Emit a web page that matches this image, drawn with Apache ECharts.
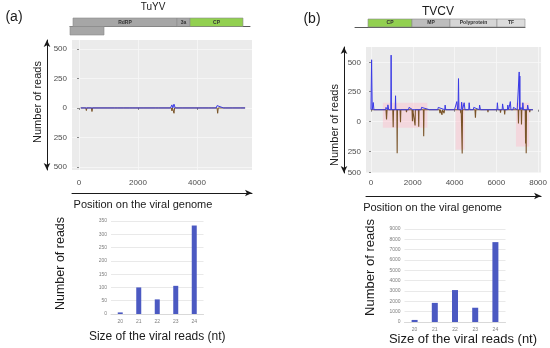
<!DOCTYPE html>
<html><head><meta charset="utf-8">
<script src="https://cdn.jsdelivr.net/npm/echarts@6/dist/echarts.min.js"></script>
<style>html,body{margin:0;padding:0;background:#fff}#c{width:550px;height:348px}</style>
</head><body><div id="c"></div>
<script>
// ---------- genome maps ----------
const tuyvGeneLabels = ['RdRP', '3a', 'CP', ''];
const tuyvGeneStart = [95, 3388, 3800, 0];
const tuyvGeneEnd = [3388, 3800, 5478, 1077];
const tuyvGeneRow = [-1, -1, -1, 0];
const tvcvGeneLabels = ['CP', 'MP', 'Polyprotein', 'TF'];
const tvcvGeneStart = [612, 2682, 4471, 6682];
const tvcvGeneEnd = [2682, 4471, 6682, 8000];
const tvcvGeneRow = [-1, -1, -1, -1];

// ---------- coverage profiles ----------
const tuyvPlusPos = [60, 200, 230, 260, 400, 425, 450, 950, 975, 1000, 1200, 1250, 1300, 1500, 1530, 1800, 1850, 1900, 2200, 2240, 2600, 2650, 2700, 3100, 3150, 3180, 3220, 3260, 3500, 3540, 3900, 3950, 4000, 4200, 4240, 4400, 4450, 4500, 4650, 4680, 4900, 4940, 5200, 5240, 5480, 5500, 5520, 5630];
const tuyvPlusVal = [0, 0, 8, 0, 0, 6, 0, 0, 8, 0, 0, 6, 0, 0, 5, 0, 8, 0, 0, 5, 0, 6, 0, 0, 26, 0, 32, 0, 0, 5, 0, 8, 0, 0, 6, 0, 8, 0, 0, 20, 0, 6, 0, 5, 0, 12, 0, 0];
const tuyvMinusPos = [60, 230, 250, 270, 420, 440, 460, 1700, 1720, 1740, 3130, 3150, 3170, 3200, 3220, 3240, 4680, 4700, 4720, 4980, 5000, 5020, 5630];
const tuyvMinusVal = [0, 0, -22, 0, 0, -30, 0, 0, -8, 0, 0, -25, 0, 0, -45, 0, 0, -45, 0, 0, -10, 0, 0];

const tvcvPlusPos = [0, 30, 60, 110, 140, 300, 320, 700, 720, 790, 810, 850, 950, 965, 980, 1160, 1176, 1190, 1400, 1420, 1800, 1820, 2000, 2020, 2400, 2420, 2800, 2820, 3200, 3220, 3530, 3550, 3580, 4000, 4080, 4110, 4150, 4170, 4190, 4210, 4320, 4340, 4380, 4440, 4460, 4500, 4680, 4700, 4730, 4900, 4920, 5180, 5200, 5240, 5600, 5620, 6030, 6050, 6080, 6280, 6300, 6340, 6530, 6550, 6590, 6650, 6670, 6700, 6800, 6820, 7000, 7080, 7095, 7110, 7125, 7140, 7180, 7250, 7270, 7300, 7480, 7500, 7540, 7700, 7750];
const tvcvPlusVal = [0, 430, 0, 62, 0, 0, 10, 0, 20, 0, 42, 0, 0, 470, 0, 0, 120, 0, 0, 15, 0, 20, 0, 15, 0, 20, 0, 15, 0, 20, 0, 40, 0, 0, 0, 70, 0, 20, 268, 0, 0, 65, 0, 0, 60, 0, 0, 60, 0, 0, 20, 0, 40, 0, 0, 15, 0, 60, 0, 0, 50, 0, 0, 40, 0, 0, 70, 0, 0, 20, 0, 0, 325, 0, 290, 0, 20, 0, 60, 0, 0, 40, 0, 0, 0];
const tvcvMinusPos = [0, 720, 745, 770, 1045, 1063, 1080, 1240, 1254, 1268, 1395, 1413, 1430, 1680, 1700, 1720, 1965, 1984, 2000, 2095, 2111, 2125, 2270, 2286, 2300, 2510, 2524, 2540, 3280, 3300, 3320, 3380, 3400, 3420, 3480, 3500, 3520, 4280, 4300, 4320, 4352, 4367, 4382, 4980, 5000, 5020, 5580, 5600, 5620, 6180, 6200, 6220, 6380, 6400, 6420, 7045, 7060, 7075, 7190, 7205, 7220, 7385, 7400, 7415, 7430, 7445, 7580, 7600, 7620, 7750];
const tvcvMinusVal = [0, 0, -85, 0, 0, -150, 0, 0, -375, 0, 0, -107, 0, 0, -20, 0, 0, -99, 0, 0, -136, 0, 0, -147, 0, 0, -228, 0, 0, -30, 0, 0, -45, 0, 0, -30, 0, 0, -30, 0, 0, -378, 0, 0, -70, 0, 0, -20, 0, 0, -25, 0, 0, -40, 0, 0, -118, 0, 0, -127, 0, 0, -290, 0, -375, 0, 0, -20, 0, 0];
// highlighted hotspot regions (TVCV)
const tvcvHotStart = [570, 4050, 6940];
const tvcvHotEnd = [2700, 4480, 7570];
const tvcvHotTop = [60, 60, 60];
const tvcvHotBottom = [-155, -344, -318];

// axis tick labels
const tuyvYTicks = [500, 250, 0, -250, -500];
const tuyvYTickLabels = ['500', '250', '0', '250', '500'];
const tuyvXTicks = [0, 2000, 4000];
const tvcvYTicks = [405, 155, -103, -362, -540];
const tvcvYTickLabels = ['500', '250', '0', '250', '500'];
const tvcvXTicks = [0, 2000, 4000, 6000, 8000];

// ---------- read size distributions ----------
const readSizes = ['20', '21', '22', '23', '24'];
const tuyvSizeReads = [6, 100, 55, 106, 333];
const tvcvSizeReads = [200, 1850, 3090, 1380, 7730];

// ---------- styles ----------
const FONT = 'Liberation Sans';
const tuyvGeneFill = ['#A6A6A6', '#A6A6A6', '#92D050', '#A6A6A6'];
const tvcvGeneFill = ['#92D050', '#BDBDBD', '#D6D6D6', '#DCDCDC'];
const plusColor = '#3A3AE6';
const minusColor = '#7A5428';
const barColor = '#4B59C2';

const zip = (a, b) => a.map((v, i) => [v, b[i]]);
const lookup = (vals, labs) => v => { const i = vals.indexOf(v); return i >= 0 ? labs[i] : ''; };
const plain = v => String(v);

function geneRenderer(labels, fills) {
  return function (params, api) {
    const i = params.dataIndex;
    const s = api.coord([api.value(0), api.value(2)]);
    const e = api.coord([api.value(1), api.value(2) + 1]);
    return {
      type: 'group', children: [
        { type: 'rect', shape: { x: s[0], y: s[1], width: e[0] - s[0], height: e[1] - s[1] },
          style: { fill: fills[i], stroke: '#8C8C8C', lineWidth: 0.6 } },
        { type: 'text', style: { text: labels[i], x: (s[0] + e[0]) / 2, y: (s[1] + e[1]) / 2,
          align: 'center', verticalAlign: 'middle', fontSize: 5, fontWeight: 'bold', fill: '#333', fontFamily: FONT } }
      ]
    };
  };
}

const covLabel = { fontSize: 8, color: '#4D4D4D', fontFamily: FONT };
const hidden = { show: false };

function arrowX(grid, name, pad) {
  return { type: 'value', gridIndex: grid, position: 'bottom', offset: 23, min: 0, max: 1,
    axisLine: { show: true, onZero: false, symbol: ['none', 'arrow'], symbolSize: [5, 7], lineStyle: { color: '#1A1A1A', width: 1 } },
    axisTick: hidden, axisLabel: hidden, splitLine: hidden,
    name: name, nameLocation: 'middle', nameGap: 6,
    nameTextStyle: { fontSize: 11, color: '#1A1A1A', fontFamily: FONT, padding: pad, verticalAlign: 'top' } };
}
function arrowY(grid, offset, pad) {
  return { type: 'value', gridIndex: grid, position: 'left', offset: offset, min: 0, max: 1,
    axisLine: { show: true, onZero: false, symbol: ['arrow', 'arrow'], symbolSize: [5, 7], lineStyle: { color: '#1A1A1A', width: 1 } },
    axisTick: hidden, axisLabel: hidden, splitLine: hidden,
    name: 'Number of reads', nameLocation: 'middle', nameGap: 4,
    nameTextStyle: { fontSize: 11, color: '#1A1A1A', fontFamily: FONT, padding: pad } };
}

const chart = echarts.init(document.getElementById('c'), null, { renderer: 'canvas' });
chart.setOption({
  animation: false,
  textStyle: { fontFamily: FONT },
  graphic: [
    { type: 'text', x: 14, y: 17, style: { text: '(a)', fontSize: 14, fill: '#1A1A1A', align: 'center', verticalAlign: 'middle', fontFamily: FONT } },
    { type: 'text', x: 153, y: 7, style: { text: 'TuYV', fontSize: 10, fill: '#1A1A1A', align: 'center', verticalAlign: 'middle', fontFamily: FONT } },
    { type: 'text', x: 312, y: 19, style: { text: '(b)', fontSize: 14, fill: '#1A1A1A', align: 'center', verticalAlign: 'middle', fontFamily: FONT } },
    { type: 'text', x: 438, y: 12, style: { text: 'TVCV', fontSize: 12, fill: '#1A1A1A', align: 'center', verticalAlign: 'middle', fontFamily: FONT } }
  ],
  grid: [
    { left: 72, top: 40, width: 180, height: 130, show: true, backgroundColor: '#EBEBEB', borderWidth: 0 },
    { left: 366, top: 47, width: 176, height: 126, show: true, backgroundColor: '#EBEBEB', borderWidth: 0 },
    { left: 111, top: 221, width: 92.5, height: 93 },
    { left: 404.5, top: 229, width: 101, height: 93 },
    { left: 70, top: 18, width: 180, height: 17 },
    { left: 355, top: 19, width: 170, height: 8 }
  ],
  xAxis: [
    { type: 'value', gridIndex: 0, min: -237, max: 5864,
      axisLine: hidden, axisTick: { show: true, customValues: tuyvXTicks, length: 2, lineStyle: { color: '#888' } },
      axisLabel: Object.assign({ customValues: tuyvXTicks, margin: 9, formatter: plain }, covLabel),
      splitLine: { show: true, lineStyle: { color: '#F7F7F7', width: 0.8 } } },
    arrowX(0, 'Position on the viral genome', [0, 38, 0, 0]),
    { type: 'value', gridIndex: 1, min: -238, max: 8143,
      axisLine: hidden, axisTick: { show: true, customValues: tvcvXTicks, length: 2, lineStyle: { color: '#888' } },
      axisLabel: Object.assign({ customValues: tvcvXTicks, margin: 6, formatter: plain }, covLabel),
      splitLine: { show: true, lineStyle: { color: '#F7F7F7', width: 0.8 } } },
    arrowX(1, 'Position on the viral genome', [0, 42, 0, 0]),
    { type: 'category', gridIndex: 2, data: readSizes,
      axisLine: { show: true, lineStyle: { color: '#D9D9D9' } }, axisTick: hidden,
      axisLabel: { fontSize: 5, color: '#7F7F7F', margin: 5 },
      name: 'Size of the viral reads (nt)', nameLocation: 'middle', nameGap: 17,
      nameTextStyle: { fontSize: 12, color: '#1A1A1A', fontFamily: FONT } },
    { type: 'category', gridIndex: 3, data: readSizes,
      axisLine: { show: true, lineStyle: { color: '#D9D9D9' } }, axisTick: hidden,
      axisLabel: { fontSize: 5, color: '#7F7F7F', margin: 5 },
      name: 'Size of the viral reads (nt)', nameLocation: 'middle', nameGap: 10,
      nameTextStyle: { fontSize: 13, color: '#1A1A1A', fontFamily: FONT, padding: [0, 0, 0, 16] } },
    { type: 'value', gridIndex: 4, min: 0, max: 5700,
      axisLine: { show: true, onZero: true, lineStyle: { color: '#595959', width: 1 } },
      axisTick: hidden, axisLabel: hidden, splitLine: hidden },
    { type: 'value', gridIndex: 5, min: 0, max: 8000,
      axisLine: { show: true, onZero: true, lineStyle: { color: '#595959', width: 1 } },
      axisTick: hidden, axisLabel: hidden, splitLine: hidden }
  ],
  yAxis: [
    { type: 'value', gridIndex: 0, min: -525, max: 575,
      axisLine: hidden, axisTick: { show: true, customValues: tuyvYTicks, length: 2, lineStyle: { color: '#888' } },
      axisLabel: Object.assign({ customValues: tuyvYTicks, formatter: lookup(tuyvYTicks, tuyvYTickLabels), margin: 5 }, covLabel),
      splitLine: { show: true, lineStyle: { color: '#F7F7F7', width: 0.8 } } },
    arrowY(0, 25, [0, 0, 0, 6]),
    { type: 'value', gridIndex: 1, min: -545, max: 540,
      axisLine: hidden, axisTick: { show: true, customValues: tvcvYTicks, length: 2, lineStyle: { color: '#888' } },
      axisLabel: Object.assign({ customValues: tvcvYTicks, formatter: lookup(tvcvYTicks, tvcvYTickLabels), margin: 5 }, covLabel),
      splitLine: { show: true, lineStyle: { color: '#F7F7F7', width: 0.8 } } },
    arrowY(1, 22, [0, 30, 0, 0]),
    { type: 'value', gridIndex: 2, min: 0, max: 350, interval: 50,
      axisLine: hidden, axisTick: hidden,
      axisLabel: { fontSize: 5, color: '#7F7F7F', margin: 4, formatter: plain },
      splitLine: { show: true, lineStyle: { color: '#E3E3E3', width: 0.8 } },
      name: 'Number of reads', nameLocation: 'middle', nameGap: 44,
      nameTextStyle: { fontSize: 12.5, color: '#1A1A1A', fontFamily: FONT, padding: [0, 0, 0, 8] } },
    { type: 'value', gridIndex: 3, min: 0, max: 9000, interval: 1000,
      axisLine: hidden, axisTick: hidden,
      axisLabel: { fontSize: 5, color: '#7F7F7F', margin: 4, formatter: plain },
      splitLine: { show: true, lineStyle: { color: '#E3E3E3', width: 0.8 } },
      name: 'Number of reads', nameLocation: 'middle', nameGap: 28,
      nameTextStyle: { fontSize: 13, color: '#1A1A1A', fontFamily: FONT, padding: [0, 0, 0, 16] } },
    { type: 'value', gridIndex: 4, min: -1, max: 1, inverse: true, show: false },
    { type: 'value', gridIndex: 5, min: -1, max: 0, inverse: true, show: false }
  ],
  series: [
    { type: 'line', xAxisIndex: 0, yAxisIndex: 0, data: zip(tuyvMinusPos, tuyvMinusVal), showSymbol: false,
      lineStyle: { color: minusColor, width: 1 } },
    { type: 'line', xAxisIndex: 0, yAxisIndex: 0, data: zip(tuyvPlusPos, tuyvPlusVal), showSymbol: false,
      lineStyle: { color: plusColor, width: 1 } },
    { type: 'line', xAxisIndex: 2, yAxisIndex: 2, data: zip(tvcvMinusPos, tvcvMinusVal), showSymbol: false,
      lineStyle: { color: minusColor, width: 1.1 },
      markArea: { silent: true, itemStyle: { color: 'rgba(255,185,200,0.4)' },
        data: tvcvHotStart.map((s, i) => [{ xAxis: s, yAxis: tvcvHotTop[i] }, { xAxis: tvcvHotEnd[i], yAxis: tvcvHotBottom[i] }]) } },
    { type: 'line', xAxisIndex: 2, yAxisIndex: 2, data: zip(tvcvPlusPos, tvcvPlusVal), showSymbol: false,
      lineStyle: { color: plusColor, width: 1 } },
    { type: 'bar', xAxisIndex: 4, yAxisIndex: 4, data: tuyvSizeReads, barWidth: 5, itemStyle: { color: barColor } },
    { type: 'bar', xAxisIndex: 5, yAxisIndex: 5, data: tvcvSizeReads, barWidth: 6, itemStyle: { color: barColor } },
    { type: 'custom', xAxisIndex: 6, yAxisIndex: 6, renderItem: geneRenderer(tuyvGeneLabels, tuyvGeneFill),
      encode: { x: [0, 1], y: 2 },
      data: tuyvGeneStart.map((s, i) => [s, tuyvGeneEnd[i], tuyvGeneRow[i]]) },
    { type: 'custom', xAxisIndex: 7, yAxisIndex: 7, renderItem: geneRenderer(tvcvGeneLabels, tvcvGeneFill),
      encode: { x: [0, 1], y: 2 },
      data: tvcvGeneStart.map((s, i) => [s, tvcvGeneEnd[i], tvcvGeneRow[i]]) }
  ]
});
</script>
</body></html>
